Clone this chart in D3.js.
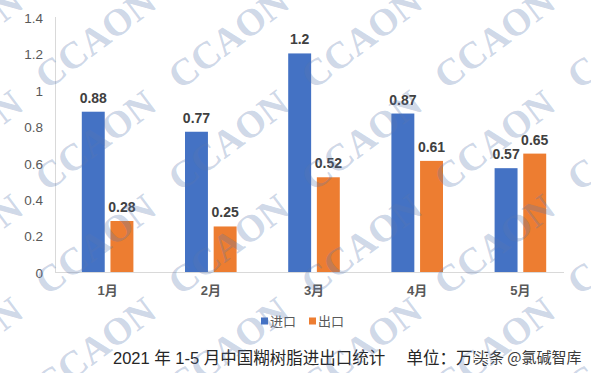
<!DOCTYPE html>
<html><head><meta charset="utf-8">
<script src="https://cdn.jsdelivr.net/npm/d3@7"></script>
<style>body{margin:0;background:#fff}svg{display:block}</style>
</head><body>
<svg id="c" width="591" height="373"></svg>
<script>
const categories = ["1月","2月","3月","4月","5月"];
const seriesNames = ["进口","出口"];
const importValues = [0.88, 0.77, 1.2, 0.87, 0.57];
const exportValues = [0.28, 0.25, 0.52, 0.61, 0.65];
const yTicks = [0, 0.2, 0.4, 0.6, 0.8, 1, 1.2, 1.4];
const colors = ["#4472C4", "#ED7D31"];
const titleText = "2021 年 1-5 月中国糊树脂进出口统计　 单位：万吨";
const sourceText = "头条 @氯碱智库";
const watermarkText = "CCAON";

const svg = d3.select("#c");
const y = d3.scaleLinear().domain([0, 1.4]).range([272, 17]);
const x0 = d3.scaleBand().domain(categories).range([56, 572]).paddingInner(0.5).paddingOuter(0.25);
const x1 = d3.scaleBand().domain(seriesNames).range([0, x0.bandwidth()]).paddingInner(0.2);
const color = d3.scaleOrdinal().domain(seriesNames).range(colors);

const rows = categories.map((c, i) => ({cat: c, vals: [
  {s: seriesNames[0], v: importValues[i]},
  {s: seriesNames[1], v: exportValues[i]}]}));

// axes lines
svg.append("line").attr("x1", 55.5).attr("x2", 55.5).attr("y1", y(1.4)).attr("y2", y(0))
  .attr("stroke", "#d9d9d9").attr("stroke-width", 1);
svg.append("line").attr("x1", 55).attr("x2", 564).attr("y1", y(0) + 0.5).attr("y2", y(0) + 0.5)
  .attr("stroke", "#d9d9d9").attr("stroke-width", 1);

// y axis labels
const yAxis = d3.axisLeft(y).tickValues(yTicks).tickFormat(d3.format("~g")).tickSize(0).tickPadding(12);
const gy = svg.append("g").attr("transform", "translate(55,1)").call(yAxis);
gy.select(".domain").remove();
gy.selectAll("text").attr("font-family", "Liberation Sans, Arial, sans-serif")
  .attr("font-size", 13.5).attr("fill", "#595959");

// x axis labels
const xAxis = d3.axisBottom(x0).tickSize(0).tickPadding(14);
const gx = svg.append("g").attr("transform", `translate(0,${y(0)})`).call(xAxis);
gx.select(".domain").remove();
gx.selectAll("text").attr("font-family", "Liberation Sans, Noto Sans CJK SC, sans-serif")
  .attr("font-size", 13).attr("font-weight", "bold").attr("fill", "#595959");

// bars
const g = svg.append("g").selectAll("g").data(rows).join("g")
  .attr("transform", d => `translate(${x0(d.cat)},0)`);
g.selectAll("rect").data(d => d.vals).join("rect")
  .attr("x", d => x1(d.s)).attr("width", x1.bandwidth())
  .attr("y", d => y(d.v)).attr("height", d => y(0) - y(d.v))
  .attr("fill", d => color(d.s));
g.selectAll("text").data(d => d.vals).join("text")
  .attr("x", d => x1(d.s) + x1.bandwidth() / 2).attr("y", d => y(d.v) - 9)
  .attr("text-anchor", "middle").attr("font-family", "Liberation Sans, Arial, sans-serif")
  .attr("font-size", 14).attr("font-weight", "bold").attr("fill", "#404040")
  .text(d => d3.format("~g")(d.v));

// legend
const lg = svg.append("g").selectAll("g").data(seriesNames).join("g")
  .attr("transform", (d, i) => `translate(${261 + i * 48},321)`);
lg.append("rect").attr("x", 0).attr("y", -3.5).attr("width", 7).attr("height", 7).attr("fill", d => color(d));
lg.append("text").attr("x", 9).attr("y", 5).attr("font-family", "Noto Sans CJK SC, sans-serif")
  .attr("font-size", 13).attr("fill", "#595959").text(d => d);

// title
svg.append("text").attr("x", 113).attr("y", 364)
  .attr("font-family", "Liberation Sans, Noto Sans CJK SC, sans-serif")
  .attr("font-size", 16.5).attr("fill", "#262626").text(titleText);
svg.append("text").attr("x", 474).attr("y", 363)
  .attr("font-family", "Noto Sans CJK SC, sans-serif").attr("font-size", 15)
  .attr("fill", "#3a3a3a").attr("stroke", "#fff").attr("stroke-width", 2.5)
  .attr("paint-order", "stroke").text(sourceText);

// watermark grid
const wmCols = [-38, 95, 228, 361, 494, 627];
const wmRows = [38, 140, 244, 347];
const wm = svg.append("g").attr("pointer-events", "none");
wmRows.forEach(ry => wmCols.forEach(cx => {
  wm.append("text").attr("transform", `translate(${cx},${ry}) rotate(-37)`)
    .attr("text-anchor", "middle").attr("dy", "0.35em")
    .attr("font-family", "Liberation Serif, Times New Roman, serif")
    .attr("font-size", 38).attr("font-weight", "bold")
    .attr("fill", "#5a78b0").attr("fill-opacity", 0.3)
    .text(watermarkText);
}));
</script>
</body></html>
